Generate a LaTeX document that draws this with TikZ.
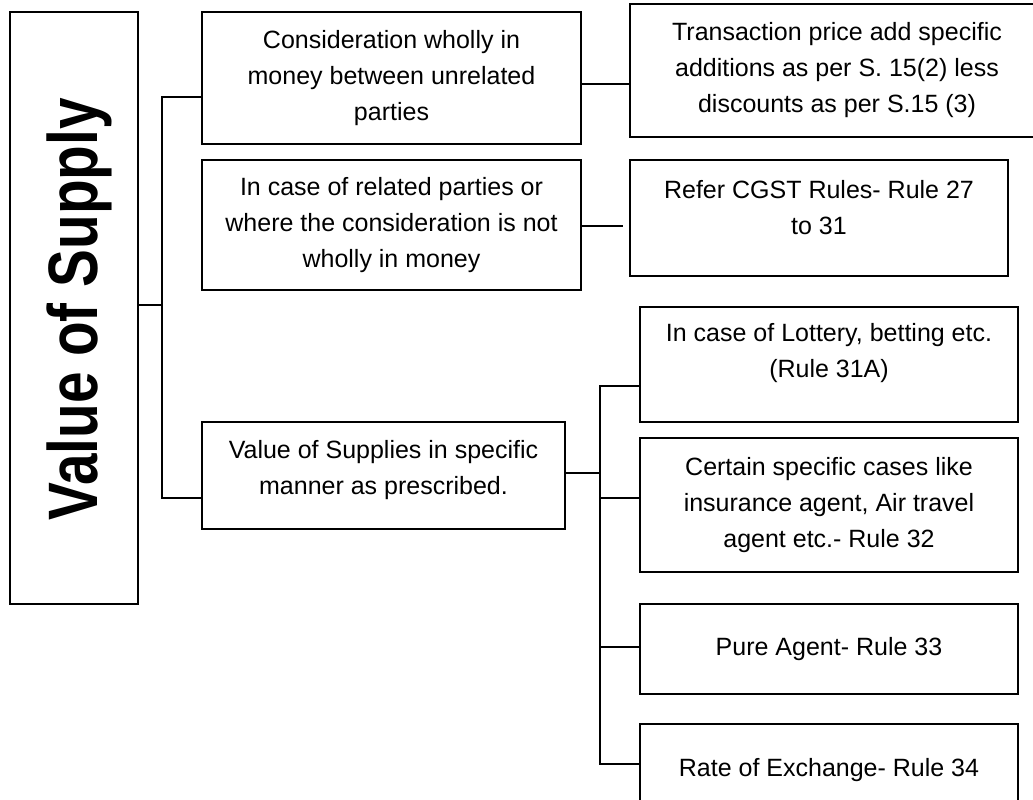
\documentclass[tikz,border=0pt]{standalone}
\usepackage{fontspec}
\setmainfont{Liberation Sans}
\begin{document}
\begin{tikzpicture}[x=1pt,y=-1pt,
  box/.style={draw, line width=1.5pt, inner sep=0pt, outer sep=0pt},
  txt/.style={align=center, font=\fontsize{25}{36}\selectfont, inner sep=0pt},
  conn/.style={line width=1.5pt}]
\useasboundingbox (0,0) rectangle (1033,800);
\clip (0,0) rectangle (1033,800);
% boxes
\node[box, minimum width=128, minimum height=592] (main) at (74,308) {};
\node[box, minimum width=379, minimum height=132] (b1) at (391.5,78) {};
\node[box, minimum width=379, minimum height=130] (b2) at (391.5,225) {};
\node[box, minimum width=363, minimum height=107] (b3) at (383.5,475.5) {};
\node[box, minimum width=414, minimum height=133] (T) at (837,70.5) {};
\node[box, minimum width=378, minimum height=116] (R) at (819,218) {};
\node[box, minimum width=378, minimum height=115] (L) at (829,364.5) {};
\node[box, minimum width=378, minimum height=134] (C) at (829,505) {};
\node[box, minimum width=378, minimum height=90] (P) at (829,649) {};
\node[box, minimum width=378, minimum height=106] (E) at (829,777) {};
% texts
\node[rotate=90, anchor=base, inner sep=0pt, font=\fontsize{70}{84}\selectfont\bfseries] (title) at (97,309.5) {\scalebox{0.81}[1]{Value of Supply}};
\node[txt] (t1) at (b1.center) {Consideration wholly in\\money between unrelated\\parties};
\node[txt] (t2) at (b2.center) {In case of related parties or\\where the consideration is not\\wholly in money};
\node[txt] (t3) at ([yshift=5pt]b3.center) {Value of Supplies in specific\\manner as prescribed.};
\node[txt] (tT) at (T.center) {Transaction price add specific\\additions as per S. 15(2) less\\discounts as per S.15 (3)};
\node[txt] (tR) at ([yshift=10pt]R.center) {Refer CGST Rules- Rule 27\\to 31};
\node[txt] (tL) at ([yshift=11pt]L.center) {In case of Lottery, betting etc.\\(Rule 31A)};
\node[txt] (tC) at (C.center) {Certain specific cases like\\insurance agent, Air travel\\agent etc.- Rule 32};
\node[txt] (tP) at (P.center) {Pure Agent- Rule 33};
\node[txt] (tE) at (829,770) {Rate of Exchange- Rule 34};
% connector coordinates
\coordinate (tTop) at (162,97);
\coordinate (tMid) at (162,305);
\coordinate (tBot) at (162,498);
\coordinate (j1) at (630,84);
\coordinate (j2) at (623,226);
\coordinate (u1) at (600,386);
\coordinate (u2) at (600,473);
\coordinate (u3) at (600,498);
\coordinate (u4) at (600,647);
\coordinate (u5) at (600,764);
% connectors
\draw[conn] (main.east |- tMid) -- (tMid);
\draw[conn] (b1.west |- tTop) -- (tTop) -- (tBot) -- (b3.west |- tBot);
\draw[conn] (b1.east |- j1) -- (T.west |- j1);
\draw[conn] (b2.east |- j2) -- (j2);
\draw[conn] (b3.east |- u2) -- (u2);
\draw[conn] (L.west |- u1) -- (u1) -- (u5) -- (E.west |- u5);
\draw[conn] (u3) -- (C.west |- u3);
\draw[conn] (u4) -- (P.west |- u4);
\end{tikzpicture}
\end{document}
